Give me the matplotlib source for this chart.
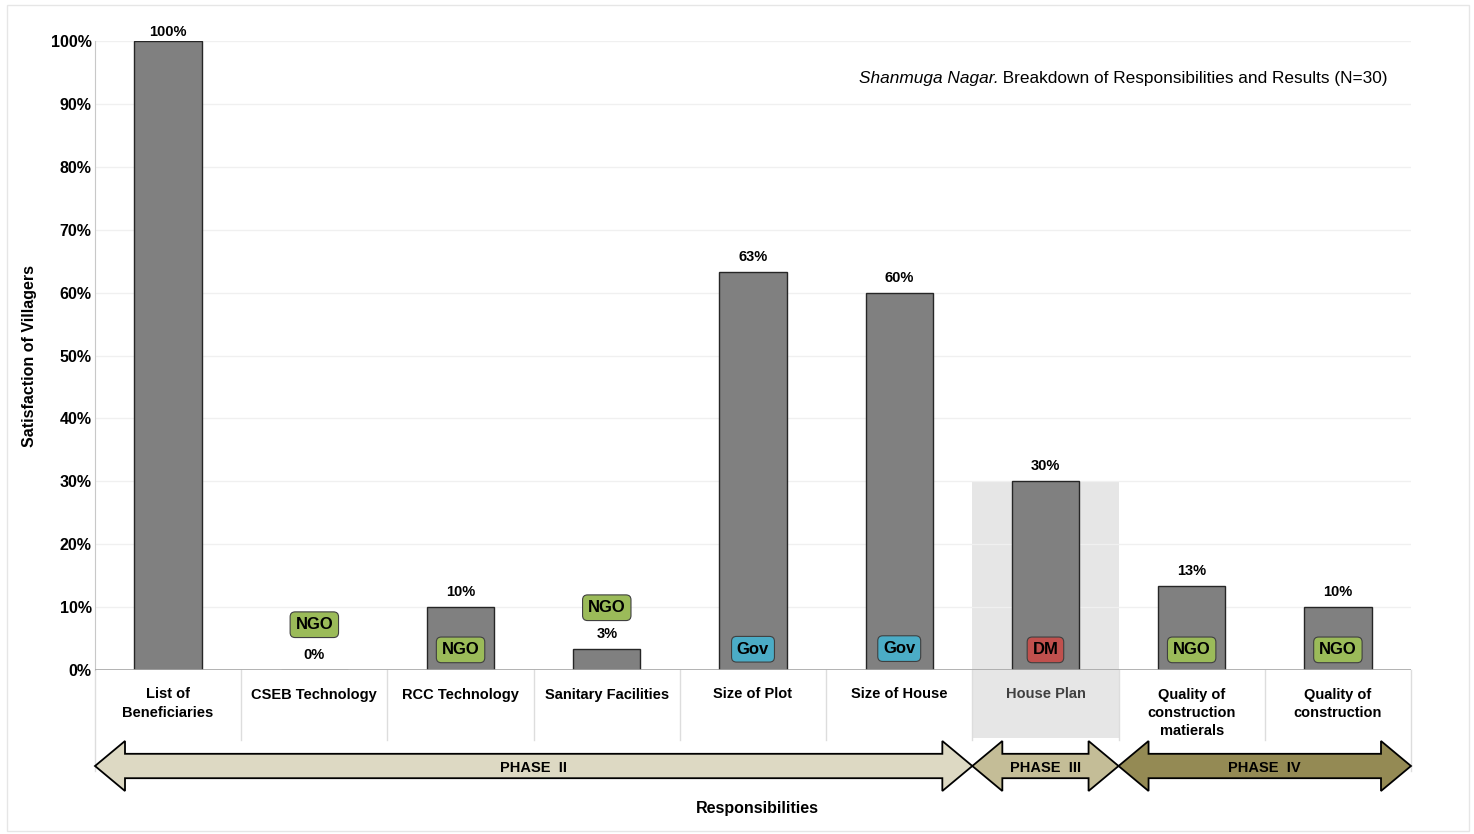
import matplotlib
matplotlib.use("Agg")
import matplotlib.pyplot as plt
from matplotlib.patches import Polygon, Rectangle
from matplotlib.ticker import FuncFormatter

plt.rcParams['font.family'] = ['Liberation Sans', 'DejaVu Sans']

# ---- data ----
categories = ["List of\nBeneficiaries", "CSEB Technology", "RCC Technology",
              "Sanitary Facilities", "Size of Plot", "Size of House",
              "House Plan", "Quality of\nconstruction\nmatierals",
              "Quality of\nconstruction"]
values = [100.0, 0.0, 10.0, 3.33, 63.33, 60.0, 30.0, 13.33, 10.0]
value_labels = ["100%", "0%", "10%", "3%", "63%", "60%", "30%", "13%", "10%"]
badge_cat = [1, 2, 3, 4, 5, 6, 7, 8]
badge_text = ["NGO", "NGO", "NGO", "Gov", "Gov", "DM", "NGO", "NGO"]
badge_y = [7.2, 3.2, 9.9, 3.3, 3.4, 3.2, 3.2, 3.2]
phase_names = ["PHASE  II", "PHASE  III", "PHASE  IV"]
phase_start = [-0.5, 5.5, 6.5]
phase_end = [5.5, 6.5, 8.5]
yticks = list(range(0, 101, 10))

badge_colors = {"NGO": "#9BBB59", "Gov": "#4BACC6", "DM": "#C0504D"}
phase_colors = ["#DDD9C3", "#C4BD97", "#948A54"]

W, H = 1474, 834
fig = plt.figure(figsize=(W / 100, H / 100), dpi=100)
fig.patch.set_facecolor("white")
fig.patches.append(Rectangle((7 / W, 3 / H), (1469 - 7) / W, (829 - 3) / H,
                             transform=fig.transFigure, fill=False,
                             edgecolor="#E6E6E6", linewidth=1.0))

x0, x1, y0, y1 = 95, 1411, 670, 41
ax = fig.add_axes([x0 / W, 1 - y0 / H, (x1 - x0) / W, (y0 - y1) / H])
ax.set_xlim(-0.5, len(categories) - 0.5)
ax.set_ylim(0, 100)
ppu = (y0 - y1) / 100.0          # pixels per y unit
ppx = (x1 - x0) / len(categories)  # pixels per x unit


def py(px_below):
    """y data value for a pixel row below the axis"""
    return -(px_below - y0) / ppu


for s in ["top", "right", "bottom"]:
    ax.spines[s].set_visible(False)
ax.spines["left"].set_color("#C8C8C8")
ax.spines["left"].set_bounds(0, 100)

ax.set_yticks(yticks)
ax.yaxis.set_major_formatter(FuncFormatter(lambda v, p: f"{int(v)}%"))
ax.tick_params(axis="y", length=0, pad=2.5, labelsize=11.5)
for t in ax.get_yticklabels():
    t.set_fontweight("bold")
ax.set_xticks([])
for yt in yticks[1:]:
    ax.axhline(yt, color="#F0F0F0", linewidth=1.0, zorder=1)
ax.axhline(0, color="#A6A6A6", linewidth=1.2, zorder=4)

# House plan shaded band
hp = 6
ax.add_patch(Rectangle((hp - 0.5, py(738)), 1.0, values[hp] - py(738),
                       facecolor="#E6E6E6", edgecolor="none", zorder=0,
                       clip_on=False))

# separators in label area
for i in range(len(categories) + 1):
    xb = i - 0.5
    bottom = py(771) if i in (0, len(categories)) else py(740)
    ax.plot([xb, xb], [0, bottom], color="#DDDDDD", linewidth=1.0,
            zorder=0.5, clip_on=False)

# bars
xs = list(range(len(categories)))
ax.bar(xs, values, width=0.46, color="#808080", edgecolor="#262626",
       linewidth=1.0, zorder=3)

for i, (v, lab) in enumerate(zip(values, value_labels)):
    off = 6.5 if v >= 99 else 10.8
    ax.annotate(lab, (i, v), xytext=(0, off), textcoords="offset points",
                ha="center", va="center", fontsize=10.5, fontweight="bold",
                annotation_clip=False, zorder=6)

# badges
for c, t, yb in zip(badge_cat, badge_text, badge_y):
    ax.text(c, yb, t, ha="center", va="center", fontsize=12, fontweight="bold",
            color="black", zorder=7,
            bbox=dict(boxstyle="round,pad=0.32,rounding_size=0.3",
                      facecolor=badge_colors[t], edgecolor="#404040",
                      linewidth=0.8))

# category labels
for i, lab in enumerate(categories):
    ax.text(i, py(687.5), lab, ha="center", va="top", fontsize=10.5,
            fontweight="bold", color="#404040" if i == hp else "black",
            linespacing=1.4, clip_on=False)

# phase arrows
yc = py(766)
hh = 25 / ppu
sh = 12.2 / ppu
hl = 30 / ppx
for name, xs0, xs1, col in zip(phase_names, phase_start, phase_end, phase_colors):
    pts = [(xs0, yc), (xs0 + hl, yc + hh), (xs0 + hl, yc + sh),
           (xs1 - hl, yc + sh), (xs1 - hl, yc + hh), (xs1, yc),
           (xs1 - hl, yc - hh), (xs1 - hl, yc - sh), (xs0 + hl, yc - sh),
           (xs0 + hl, yc - hh)]
    ax.add_patch(Polygon(pts, closed=True, facecolor=col, edgecolor="black",
                         linewidth=1.3, zorder=5, clip_on=False))
    ax.text((xs0 + xs1) / 2, py(768), name, ha="center", va="center",
            fontsize=10.5, fontweight="bold", zorder=6, clip_on=False)

# axis titles
fig.text(757 / W, 1 - 808 / H, "Responsibilities", ha="center", va="center",
         fontsize=11.5, fontweight="bold")
fig.text(30 / W, 1 - 356 / H, "Satisfaction of Villagers", ha="center",
         va="center", rotation=90, fontsize=11.5, fontweight="bold")

# title
t2 = fig.text(1388 / W, 1 - 78 / H,
              " Breakdown of Responsibilities and Results (N=30)",
              ha="right", va="center", fontsize=12.4)
fig.canvas.draw()
ax.annotate("Shanmuga Nagar.", xy=(0, 0.5), xycoords=t2, ha="right",
            va="center", fontsize=12.4, fontstyle="italic",
            annotation_clip=False)

fig.savefig("out.png", dpi=100, facecolor="white")
